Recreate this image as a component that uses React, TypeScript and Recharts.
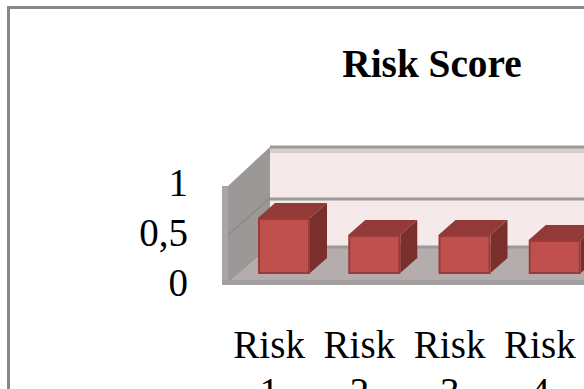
import React from "react";
import { BarChart, Bar, XAxis, YAxis, ReferenceArea } from "recharts";

const categories = ["Risk 1", "Risk 2", "Risk 3", "Risk 4"];
const riskScores = [0.55, 0.38, 0.38, 0.33];
const yTicks = [0, 0.5, 1];

const rows = categories.map((name, i) => ({ name, score: riskScores[i] }));

const FONT = '"Liberation Serif", "Times New Roman", serif';
const FONT_SIZE = 39;
const GRID = "#9c9a99";

// Depth of the box the chart stands in, and how far bars sit into it.
const ROOM_DX = 46;
const ROOM_DY = 36;
const BAR_SHIFT_X = 15;
const BAR_SHIFT_Y = 10;
const BAR_DX = 17;
const BAR_DY = 15;

function Room({ x, y, width, height }: any) {
  const right = x + width;
  const bottom = y + height;
  const backX = x + ROOM_DX;
  const backTop = y - ROOM_DY;
  const backBottom = bottom - ROOM_DY;
  return (
    <g>
      <rect x={backX} y={backTop} width={right - backX} height={height} fill="#f5e9e9" />
      <polygon
        points={`${x + 4},${bottom} ${backX},${backBottom} ${right},${backBottom} ${right},${bottom}`}
        fill="#b5adad"
      />
      <polygon
        points={`${x + 4},${y + 3} ${backX},${backTop} ${backX},${backBottom} ${x + 4},${bottom}`}
        fill="#9c9897"
      />
      <rect x={x - 2} y={y + 3} width={6} height={height - 2} fill="#a8a6a6" />
      <rect x={x - 2} y={bottom - 3} width={width + 2} height={5} fill="#a3a09f" />
      <rect x={backX} y={backTop + 1} width={right - backX} height={5} fill="#d5d0ce" />
      {yTicks.map((t) => {
        const front = bottom - t * height;
        const back = front - ROOM_DY;
        const lift = t === 0.5 ? 2 : 0;
        return (
          <g key={t}>
            {t === 0.5 && (
              <line x1={x + 4} y1={front + 2} x2={backX} y2={back + 1} stroke="#8f8c8b" strokeWidth={2} />
            )}
            <line x1={backX} y1={back + lift} x2={right} y2={back + lift} stroke={GRID} strokeWidth={3} />
          </g>
        );
      })}
    </g>
  );
}

function Cuboid({ x, y, width, height }: any) {
  const left = x + BAR_SHIFT_X;
  const top = y - BAR_SHIFT_Y;
  const right = left + width;
  const bottom = top + height;
  return (
    <g>
      <polygon
        points={`${left},${top} ${left + BAR_DX},${top - BAR_DY} ${right + BAR_DX},${top - BAR_DY} ${right},${top}`}
        fill="#913a38"
      />
      <polygon
        points={`${right},${top} ${right + BAR_DX},${top - BAR_DY} ${right + BAR_DX},${bottom - BAR_DY} ${right},${bottom}`}
        fill="#7a2f2d"
      />
      <rect x={left + 1} y={top + 1} width={width - 2} height={height - 1} fill="#bf504d" stroke="#9b3b39" strokeWidth={2} />
    </g>
  );
}

function CategoryTick({ x, payload }: any) {
  const [word, num] = String(payload.value).split(" ");
  return (
    <text textAnchor="middle" fontFamily={FONT} fontSize={FONT_SIZE} fill="#000">
      <tspan x={x} y={358}>{word}</tspan>
      <tspan x={x} y={405}>{num}</tspan>
    </text>
  );
}

function ValueTick({ y, payload }: any) {
  return (
    <text x={188} y={y + 13} textAnchor="end" fontFamily={FONT} fontSize={FONT_SIZE} fill="#000">
      {String(payload.value).replace(".", ",")}
    </text>
  );
}

export default function App() {
  return (
    <div style={{ position: "fixed", left: 0, top: 0, width: 584, height: 389, overflow: "hidden", background: "#fff" }}>
      <div
        style={{
          position: "absolute",
          left: 7,
          top: 6,
          width: 700,
          height: 500,
          border: "3px solid #868686",
          boxSizing: "border-box",
        }}
      />
      <div style={{ position: "absolute", left: 0, top: 0 }}>
        <BarChart
          width={620}
          height={430}
          data={rows}
          barSize={52}
          margin={{ top: 183, right: 35, bottom: 47, left: 164 }}
        >
          <text x={432} y={77} textAnchor="middle" fontFamily={FONT} fontSize={39.3} fontWeight="bold" fill="#000">
            Risk Score
          </text>
          <XAxis dataKey="name" axisLine={false} tickLine={false} height={100} interval={0} tick={<CategoryTick />} />
          <YAxis width={60} domain={[0, 1]} ticks={yTicks} axisLine={false} tickLine={false} tick={<ValueTick />} />
          <ReferenceArea y1={0} y2={1} shape={<Room />} fill="none" stroke="none" ifOverflow="visible" />
          <Bar dataKey="score" shape={<Cuboid />} isAnimationActive={false} />
        </BarChart>
      </div>
    </div>
  );
}
